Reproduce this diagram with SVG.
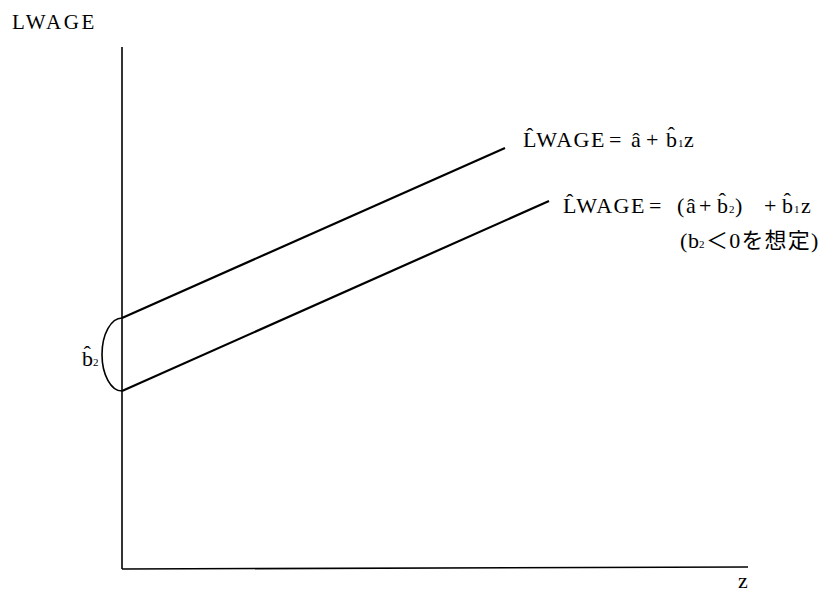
<svg xmlns="http://www.w3.org/2000/svg" width="825" height="592" viewBox="0 0 825 592">
<style>
.t{font-family:'Liberation Serif','DejaVu Serif',serif;fill:#000;font-size:22px}
.j{font-family:'Liberation Serif','Noto Sans CJK JP',serif}
.s{font-size:11px}
.ax{stroke:#000;stroke-width:1.6;fill:none}
.ln{stroke:#000;stroke-width:2.2;fill:none}
</style>
<rect width="825" height="592" fill="#fff"/>
<g id="axes">
<line class="ax" x1="122" y1="47" x2="122" y2="569"/>
<line class="ax" x1="122" y1="569" x2="748" y2="567"/>
<text class="t" x="12" y="29" style="font-size:21px;letter-spacing:2.6px">LWAGE</text>
<text class="t" x="738" y="588">z</text>
</g>
<g id="connectors">
<line class="ln" x1="122" y1="318" x2="505" y2="148"/>
<line class="ln" x1="122" y1="391" x2="549" y2="201"/>
<path class="ax" d="M122,318 A20,36.5 0 0 0 122,391"/>
</g>
<g id="label-b2">
<text class="t" y="366"><tspan x="82">b̂</tspan><tspan class="s" x="93">2</tspan></text>
</g>
<g id="label-line1">
<text class="t" y="147"><tspan x="523" style="letter-spacing:1.5px">L̂WAGE</tspan><tspan x="609">=</tspan><tspan x="631">â</tspan><tspan x="646">+</tspan><tspan x="666">b̂</tspan><tspan class="s" x="678">1</tspan><tspan x="684">z</tspan></text>
</g>
<g id="label-line2">
<text class="t" y="213"><tspan x="563" style="letter-spacing:1.5px">L̂WAGE</tspan><tspan x="649">=</tspan><tspan x="677">(</tspan><tspan x="686">â</tspan><tspan x="699">+</tspan><tspan x="717">b̂</tspan><tspan class="s" x="729">2</tspan><tspan x="735">)</tspan><tspan x="764">+</tspan><tspan x="782">b̂</tspan><tspan class="s" x="794">1</tspan><tspan x="801">z</tspan></text>
<text class="t j" y="248"><tspan x="680">(</tspan><tspan x="688">b</tspan><tspan class="s" x="699">2</tspan><tspan x="706" style="letter-spacing:1.2px">＜0を想定)</tspan></text>
</g>
</svg>
